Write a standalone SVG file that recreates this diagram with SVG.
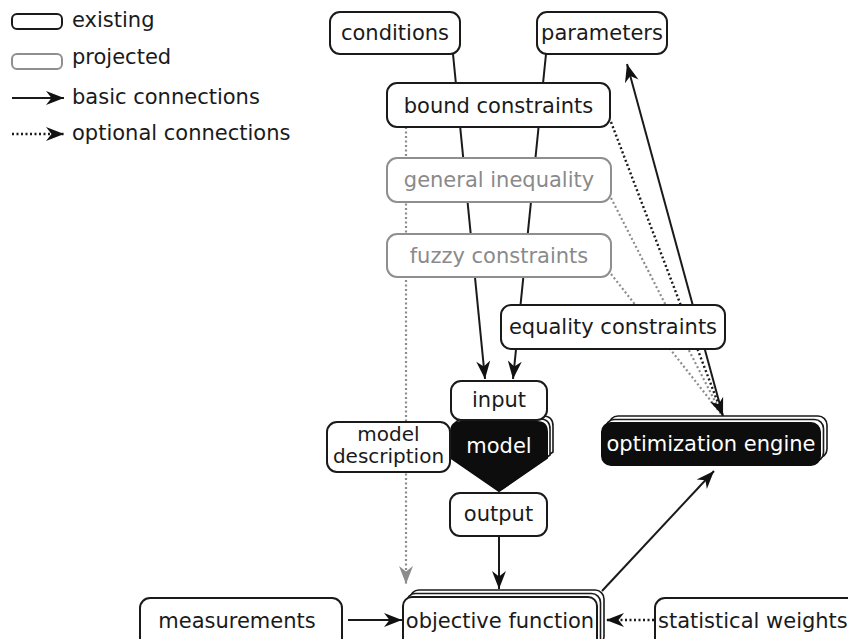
<svg xmlns="http://www.w3.org/2000/svg" width="848" height="639" viewBox="0 0 848 639">
  <style>
    .lbl { font-family: "DejaVu Sans", "Liberation Sans", sans-serif; font-size: 21px; fill: #1a1a1a; }
    .small { font-size: 20px; }
    .mid { text-anchor: middle; }
    .box { fill: #ffffff; stroke: #1a1a1a; stroke-width: 2; }
    .proj { fill: #ffffff; stroke: #8f8f8f; stroke-width: 2; }
    .projtxt { fill: #8a8a8a; }
    .dark { fill: #0d0d0d; stroke: #0d0d0d; stroke-width: 2; }
    .stack { fill: #ffffff; stroke: #1a1a1a; stroke-width: 1.6; }
    .inv { fill: #ffffff; }
    .solid { fill: none; stroke: #1a1a1a; stroke-width: 2; }
    .dotted { fill: none; stroke: #1a1a1a; stroke-width: 2.4; stroke-dasharray: 2 2.5; }
    .gdotted { fill: none; stroke: #8c8c8c; stroke-width: 2.2; stroke-dasharray: 2 2.5; }
  </style>
  <defs>
    <marker id="arrow" viewBox="-19 -8 20 16" refX="0" refY="0" markerWidth="20" markerHeight="16" markerUnits="userSpaceOnUse" orient="auto">
      <path d="M0,0 L-18,-7 L-12.5,0 L-18,7 Z" fill="#111111"/>
    </marker>
    <marker id="arrowGray" viewBox="-19 -8 20 16" refX="0" refY="0" markerWidth="20" markerHeight="16" markerUnits="userSpaceOnUse" orient="auto">
      <path d="M0,0 L-18,-7 L-12.5,0 L-18,7 Z" fill="#8c8c8c"/>
    </marker>
  </defs>

  <rect width="848" height="639" fill="#ffffff"/>

  <!-- legend -->
  <g id="legend">
    <rect class="box" x="12" y="14" width="50" height="15" rx="5"/>
    <text class="lbl" x="72" y="27">existing</text>
    <rect class="proj" x="12" y="54" width="50" height="15" rx="5"/>
    <text class="lbl" x="72" y="64">projected</text>
    <line class="solid" x1="12" y1="98" x2="64" y2="98" marker-end="url(#arrow)"/>
    <text class="lbl" x="72" y="104">basic connections</text>
    <line class="dotted" x1="12" y1="134" x2="64" y2="134" marker-end="url(#arrow)"/>
    <text class="lbl" x="72" y="140">optional connections</text>
  </g>

  <!-- connectors (drawn beneath the nodes) -->
  <g id="connectors">
    <line class="solid" x1="453" y1="54" x2="485" y2="379" marker-end="url(#arrow)"/>
    <line class="solid" x1="546" y1="54" x2="513" y2="379" marker-end="url(#arrow)"/>
    <line class="gdotted" x1="406" y1="127" x2="406" y2="584" marker-end="url(#arrowGray)"/>
    <line class="gdotted" x1="611" y1="198" x2="722" y2="415"/>
    <line class="gdotted" x1="611" y1="274" x2="722" y2="415"/>
    <line class="solid" x1="723" y1="416" x2="627" y2="64" marker-end="url(#arrow)"/>
    <line class="dotted" x1="611" y1="122" x2="723" y2="416" marker-end="url(#arrow)"/>
    <line class="solid" x1="499" y1="537" x2="499" y2="589" marker-end="url(#arrow)"/>
    <line class="solid" x1="602" y1="591" x2="714" y2="471" marker-end="url(#arrow)"/>
    <line class="solid" x1="348" y1="620" x2="402" y2="620" marker-end="url(#arrow)"/>
    <line class="dotted" x1="654" y1="620" x2="606" y2="620" marker-end="url(#arrow)"/>
  </g>

  <!-- nodes -->
  <g id="conditions">
    <rect class="box" x="330" y="12" width="130" height="42" rx="10"/>
    <text class="lbl mid" x="395" y="40">conditions</text>
  </g>
  <g id="parameters">
    <rect class="box" x="537" y="12" width="130" height="42" rx="10"/>
    <text class="lbl mid" x="602" y="40">parameters</text>
  </g>
  <g id="bound-constraints">
    <rect class="box" x="387" y="83" width="223" height="44" rx="10"/>
    <text class="lbl mid" x="498.5" y="112.5">bound constraints</text>
  </g>
  <g id="general-inequality">
    <rect class="proj" x="387" y="158" width="224" height="44" rx="10"/>
    <text class="lbl mid projtxt" x="499" y="187">general inequality</text>
  </g>
  <g id="fuzzy-constraints">
    <rect class="proj" x="387" y="234" width="224" height="43" rx="10"/>
    <text class="lbl mid projtxt" x="499" y="262.5">fuzzy constraints</text>
  </g>
  <g id="equality-constraints">
    <rect class="box" x="501" y="305" width="224" height="44" rx="10"/>
    <text class="lbl mid" x="613" y="334">equality constraints</text>
  </g>
  <g id="model">
    <path class="stack" d="M457,426 Q457,416 467,416 L543,416 Q553,416 553,426 L553,452 L505,486 L457,452 Z"/>
    <path class="stack" d="M454,429 Q454,419 464,419 L540,419 Q550,419 550,429 L550,455 L502,489 L454,455 Z"/>
    <path class="dark" d="M451,432 Q451,422 461,422 L537,422 Q547,422 547,432 L547,458 L499,491 L451,458 Z"/>
    <text class="lbl mid inv" x="499" y="453">model</text>
  </g>
  <g id="input">
    <rect class="box" x="451" y="381" width="96" height="39" rx="10"/>
    <text class="lbl mid" x="499" y="407">input</text>
  </g>
  <g id="model-description">
    <rect class="box" x="327" y="422" width="123" height="50" rx="10"/>
    <text class="lbl small mid" x="388.5" y="441">model</text>
    <text class="lbl small mid" x="388.5" y="463">description</text>
  </g>
  <g id="output">
    <rect class="box" x="450" y="493" width="97" height="43" rx="10"/>
    <text class="lbl mid" x="498.5" y="521">output</text>
  </g>
  <g id="optimization-engine">
    <rect class="stack" x="609" y="416" width="218" height="42" rx="9"/>
    <rect class="stack" x="605.5" y="419.5" width="218" height="42" rx="9"/>
    <rect class="dark" x="602" y="423" width="218" height="42" rx="9"/>
    <text class="lbl mid inv" x="711" y="451">optimization engine</text>
  </g>
  <g id="measurements">
    <rect class="box" x="140" y="598" width="202" height="50" rx="10"/>
    <text class="lbl mid" x="237" y="628">measurements</text>
  </g>
  <g id="objective-function">
    <rect class="stack" x="410" y="590" width="194" height="55" rx="9"/>
    <rect class="stack" x="406.5" y="593.5" width="194" height="55" rx="9"/>
    <rect class="box" x="403" y="597" width="194" height="55" rx="9"/>
    <text class="lbl mid" x="500" y="628">objective function</text>
  </g>
  <g id="statistical-weights">
    <rect class="box" x="655" y="598" width="210" height="50" rx="10"/>
    <text class="lbl" x="658" y="628">statistical weights</text>
  </g>
</svg>
